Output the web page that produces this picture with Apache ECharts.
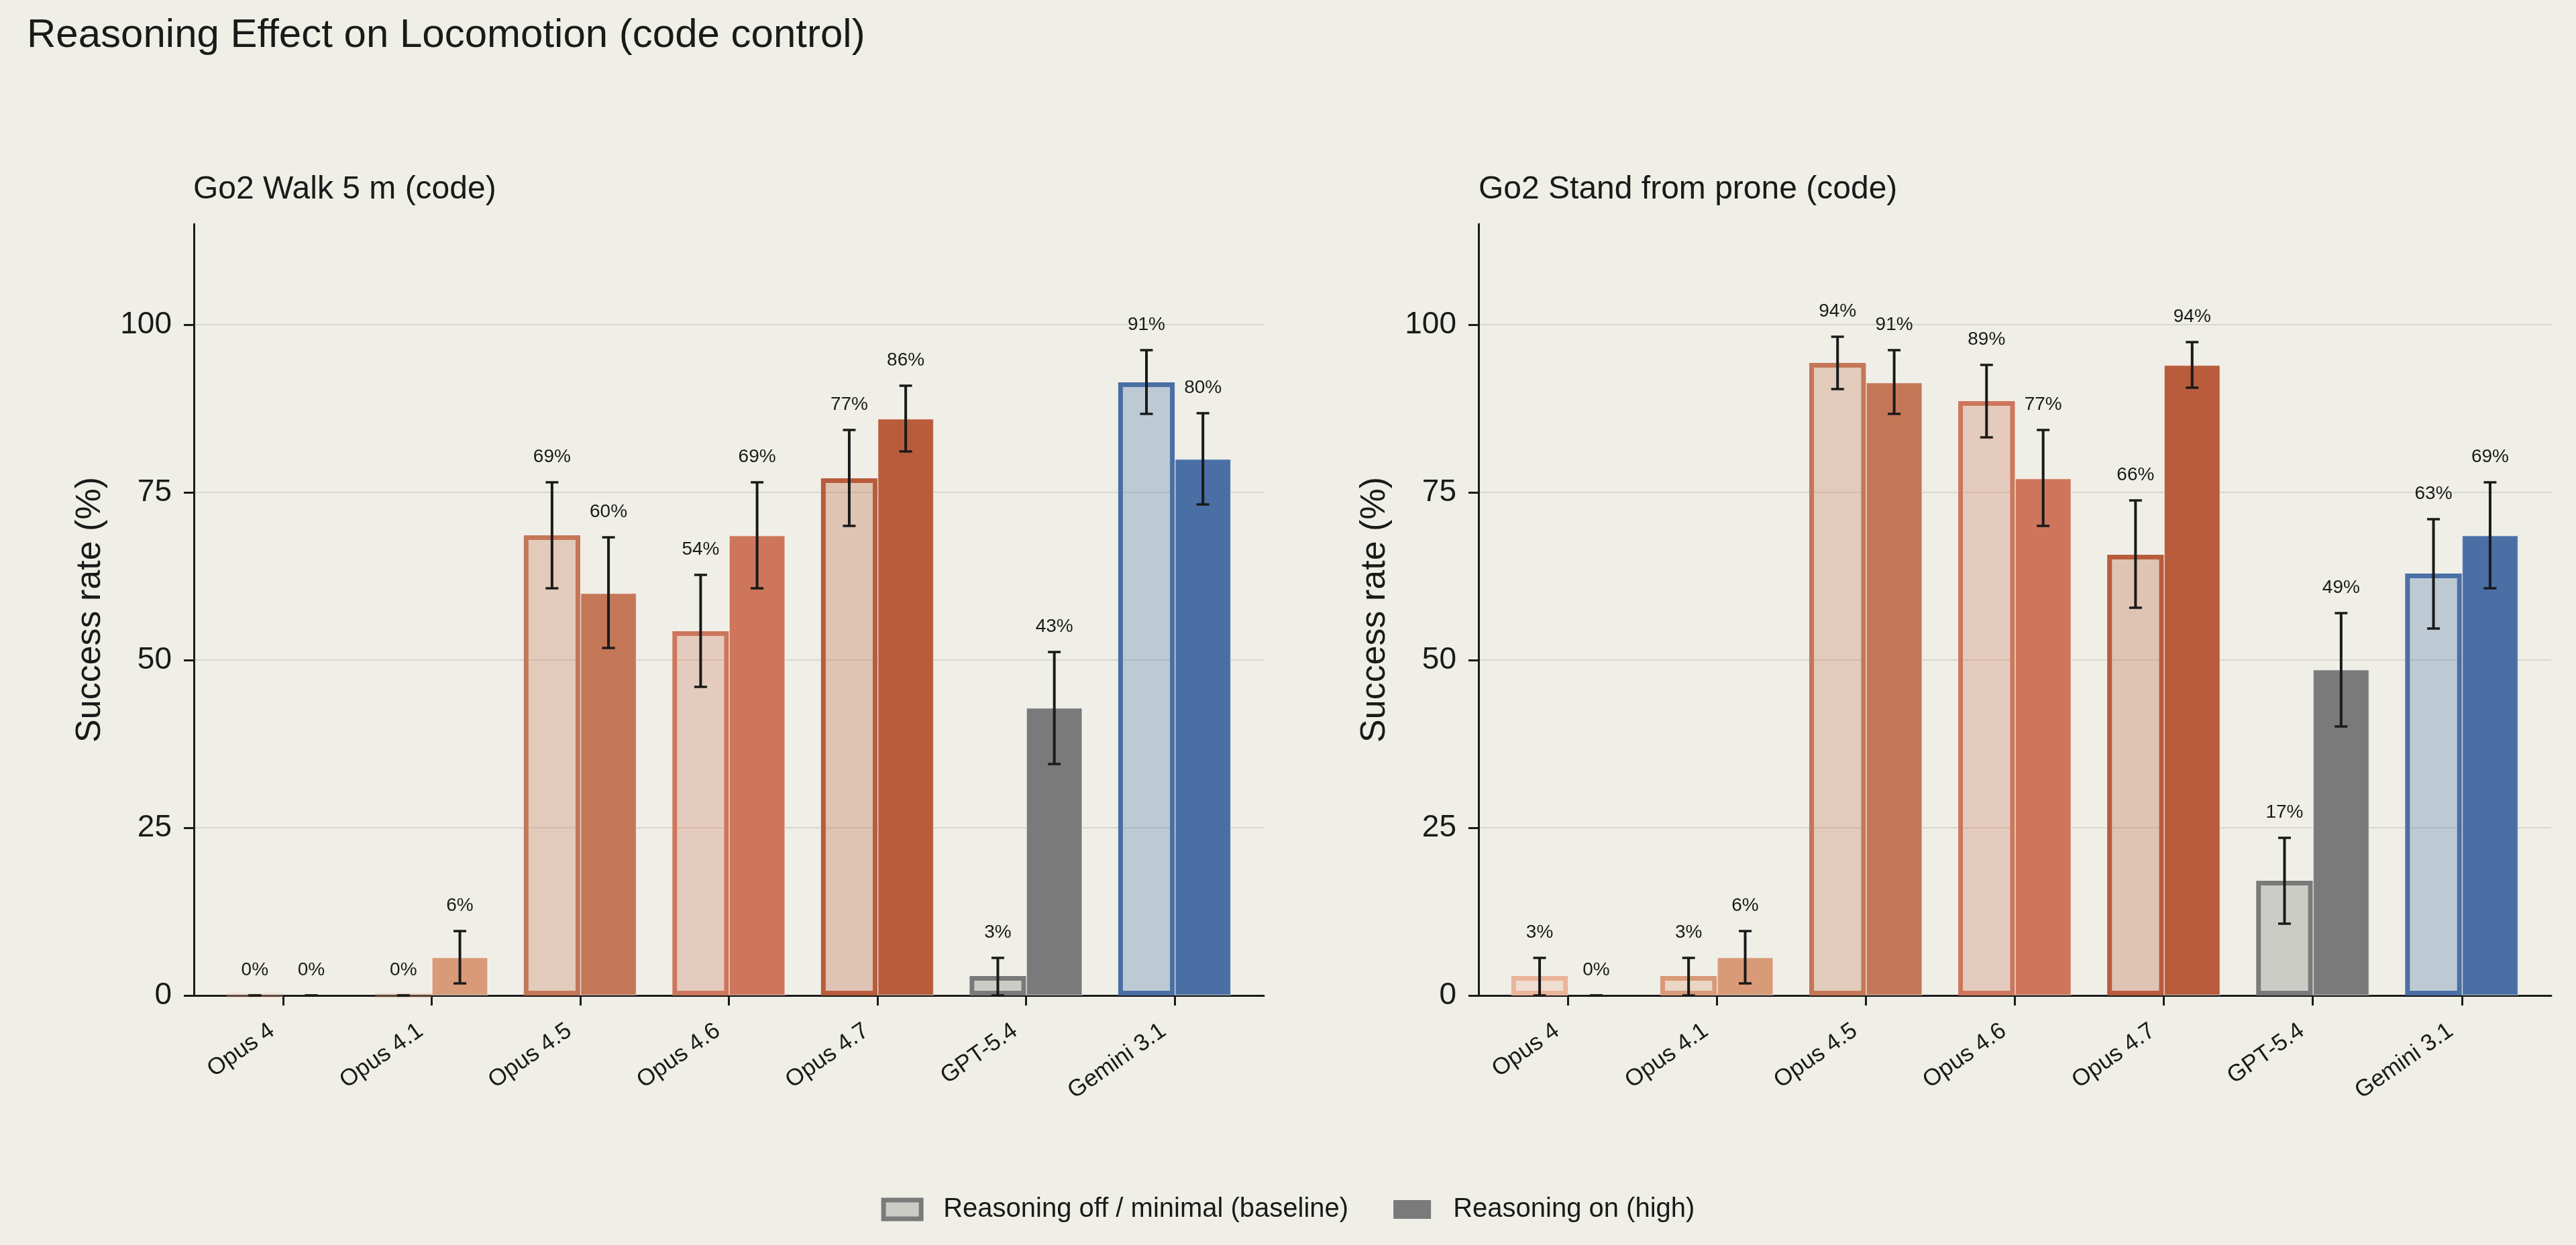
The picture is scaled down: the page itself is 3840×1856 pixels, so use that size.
<!DOCTYPE html>
<html><head><meta charset="utf-8">
<script src="https://cdn.jsdelivr.net/npm/echarts@6/dist/echarts.min.js"></script>
<style>html,body{margin:0;padding:0;background:#f0efe7;}#c{width:3840px;height:1856px;}</style>
</head><body><div id="c"></div>
<script>
// ---------- data ----------
const models = ['Opus 4', 'Opus 4.1', 'Opus 4.5', 'Opus 4.6', 'Opus 4.7', 'GPT-5.4', 'Gemini 3.1'];
const modelColors = ['#ecb49a', '#d99a78', '#c47757', '#cd765c', '#b85c3c', '#7a7a7a', '#4a6fa5'];
const yTicks = [0, 25, 50, 75, 100];
const xTicks = [0, 1, 2, 3, 4, 5, 6];
const mainTitle = 'Reasoning Effect on Locomotion (code control)';
const panelTitles = ['Go2 Walk 5 m (code)', 'Go2 Stand from prone (code)'];
const legendNames = ['Reasoning off / minimal (baseline)', 'Reasoning on (high)'];
const yAxisTitle = 'Success rate (%)';

// Panel 1: Go2 Walk 5 m
const walkBase   = [0, 0, 68.6, 54.3, 77.1, 2.9, 91.4];
const walkBaseLo = [0, 0, 60.7, 46.0, 70.0, 0.0, 86.7];
const walkBaseHi = [0, 0, 76.5, 62.7, 84.3, 5.6, 96.2];
const walkHigh   = [0, 5.7, 60.0, 68.6, 86.0, 42.9, 80.0];
const walkHighLo = [0, 1.8, 51.8, 60.7, 81.1, 34.5, 73.2];
const walkHighHi = [0, 9.6, 68.3, 76.5, 90.9, 51.2, 86.8];

// Panel 2: Go2 Stand from prone
const standBase   = [2.9, 2.9, 94.3, 88.6, 65.7, 17.1, 62.9];
const standBaseLo = [0.0, 0.0, 90.4, 83.2, 57.8, 10.7, 54.7];
const standBaseHi = [5.6, 5.6, 98.2, 94.0, 73.8, 23.5, 71.0];
const standHigh   = [0, 5.7, 91.4, 77.1, 94.0, 48.6, 68.6];
const standHighLo = [0, 1.8, 86.7, 70.0, 90.6, 40.1, 60.7];
const standHighHi = [0, 9.6, 96.2, 84.3, 97.4, 57.0, 76.5];

// ---------- helpers ----------
const FONT = '"Liberation Sans", Arial, Helvetica, sans-serif';
const INK = '#1a1a1a';
function rgba(hex, a) {
  const n = parseInt(hex.slice(1), 16);
  return 'rgba(' + ((n >> 16) & 255) + ',' + ((n >> 8) & 255) + ',' + (n & 255) + ',' + a + ')';
}
const BAR_W = 0.38; // fraction of category unit

function renderErr(params, api) {
  const x = api.value(0), lo = api.value(1), hi = api.value(2), side = api.value(3), v = api.value(4);
  const unit = api.size([1, 0])[0];
  const pLo = api.coord([x, lo]);
  const pHi = api.coord([x, hi]);
  const cx = pLo[0] + side * (BAR_W / 2) * unit;
  const cap = 9.5;
  return {
    type: 'group',
    children: [
      { type: 'line', shape: { x1: cx, y1: pLo[1], x2: cx, y2: pHi[1] }, style: { stroke: INK, lineWidth: 4 } },
      { type: 'line', shape: { x1: cx - cap, y1: pLo[1], x2: cx + cap, y2: pLo[1] }, style: { stroke: INK, lineWidth: 3.5 } },
      { type: 'line', shape: { x1: cx - cap, y1: pHi[1], x2: cx + cap, y2: pHi[1] }, style: { stroke: INK, lineWidth: 3.5 } },
      { type: 'text', style: { text: Math.round(v) + '%', x: cx, y: pHi[1] - 24, fill: INK,
          fontSize: 28, fontFamily: FONT, align: 'center', verticalAlign: 'bottom' } }
    ]
  };
}

const grids = [
  { left: 289, top: 334, width: 1595, height: 1150 },
  { left: 2204, top: 334, width: 1599, height: 1150 }
];

function makeX(idx) {
  return {
    type: 'value', gridIndex: idx, min: -0.6, max: 6.6,
    axisLine: { onZero: false, lineStyle: { color: INK, width: 3 } },
    axisTick: { show: true, customValues: xTicks, length: 15, lineStyle: { color: INK, width: 3 } },
    axisLabel: { customValues: xTicks, formatter: v => models[Math.round(v)], rotate: 35,
      fontSize: 35, fontFamily: FONT, color: INK, margin: 38, padding: [0, 20, 0, 0] },
    splitLine: { show: false }
  };
}
function makeY(idx) {
  return {
    type: 'value', gridIndex: idx, min: 0, max: 115,
    name: yAxisTitle, nameLocation: 'middle', nameGap: 128,
    nameTextStyle: { fontSize: 52, fontFamily: FONT, color: INK },
    axisLine: { show: true, onZero: false, lineStyle: { color: INK, width: 3 } },
    axisTick: { show: true, customValues: yTicks, length: 15, lineStyle: { color: INK, width: 3 } },
    axisLabel: { customValues: yTicks, fontSize: 46, fontFamily: FONT, color: INK, margin: 33 },
    splitLine: { show: true, lineStyle: { color: '#d8d7cf', width: 2 } }
  };
}

function baseSeries(idx, vals) {
  return {
    name: legendNames[0], type: 'bar', xAxisIndex: idx, yAxisIndex: idx,
    barWidth: (BAR_W * 100) + '%', barGap: '0%', z: 2,
    itemStyle: { color: rgba('#7a7a7a', 0.3), borderColor: '#7a7a7a', borderWidth: 7 },
    data: vals.map((v, i) => ({
      value: [i, v],
      itemStyle: { color: rgba(modelColors[i], 0.3),
        borderColor: v > 0 ? modelColors[i] : rgba(modelColors[i], 0.3), borderWidth: 7 }
    }))
  };
}
function highSeries(idx, vals) {
  return {
    name: legendNames[1], type: 'bar', xAxisIndex: idx, yAxisIndex: idx,
    barWidth: (BAR_W * 100) + '%', barGap: '0%', z: 2,
    itemStyle: { color: '#7a7a7a', borderColor: 'rgba(255,255,255,0.45)', borderWidth: 1.5 },
    data: vals.map((v, i) => ({
      value: [i, v],
      itemStyle: { color: modelColors[i], borderColor: v > 0 ? 'rgba(255,255,255,0.45)' : 'rgba(0,0,0,0)', borderWidth: 1.5 }
    }))
  };
}
function errSeries(idx, vals, lo, hi, side) {
  return {
    type: 'custom', xAxisIndex: idx, yAxisIndex: idx, z: 5, silent: true,
    renderItem: renderErr,
    encode: { x: 0, y: [1, 2] },
    data: vals.map((v, i) => [i, lo[i], hi[i], side, v])
  };
}

const option = {
  backgroundColor: '#f0efe7',
  animation: false,
  textStyle: { fontFamily: FONT },
  title: [
    { text: mainTitle, left: 40, top: 23, padding: 0,
      textStyle: { fontSize: 60, fontWeight: 'normal', color: INK, fontFamily: FONT } },
    { text: panelTitles[0], left: 288, top: 259, padding: 0,
      textStyle: { fontSize: 48, fontWeight: 'normal', color: INK, fontFamily: FONT } },
    { text: panelTitles[1], left: 2204, top: 259, padding: 0,
      textStyle: { fontSize: 48, fontWeight: 'normal', color: INK, fontFamily: FONT } }
  ],
  legend: {
    left: 'center', top: 1778, icon: 'rect', itemWidth: 56, itemHeight: 28, itemGap: 67,
    textStyle: { fontSize: 40, fontFamily: FONT, color: INK, padding: [0, 0, 0, 28] },
    data: [
      { name: legendNames[0], itemStyle: { color: rgba('#7a7a7a', 0.3), borderColor: '#7a7a7a', borderWidth: 7 } },
      { name: legendNames[1], itemStyle: { color: '#7a7a7a', borderWidth: 0 } }
    ]
  },
  grid: grids,
  xAxis: [makeX(0), makeX(1)],
  yAxis: [makeY(0), makeY(1)],
  series: [
    baseSeries(0, walkBase), highSeries(0, walkHigh),
    errSeries(0, walkBase, walkBaseLo, walkBaseHi, -1), errSeries(0, walkHigh, walkHighLo, walkHighHi, 1),
    baseSeries(1, standBase), highSeries(1, standHigh),
    errSeries(1, standBase, standBaseLo, standBaseHi, -1), errSeries(1, standHigh, standHighLo, standHighHi, 1)
  ]
};

const chart = echarts.init(document.getElementById('c'), null, { renderer: 'canvas' });
chart.setOption(option);
</script>
</body></html>
